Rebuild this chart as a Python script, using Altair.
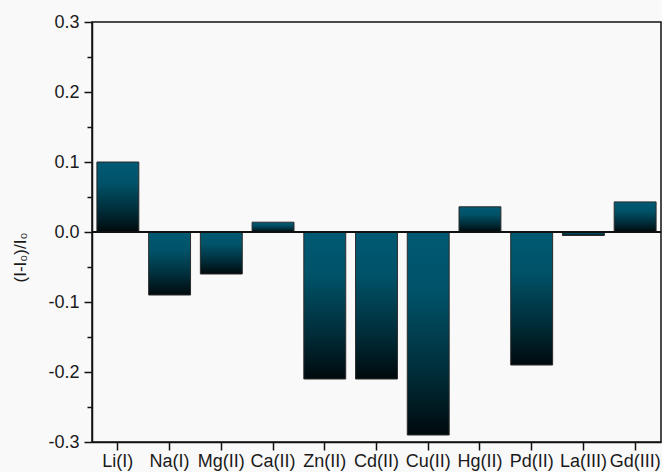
import altair as alt
import pandas as pd

# Relative intensity change for each metal ion
ions = ["Li(I)", "Na(I)", "Mg(II)", "Ca(II)", "Zn(II)", "Cd(II)",
        "Cu(II)", "Hg(II)", "Pd(II)", "La(III)", "Gd(III)"]
response = [0.100, -0.090, -0.060, 0.014, -0.210, -0.210,
            -0.290, 0.036, -0.190, -0.005, 0.043]

major_ticks = [-0.3, -0.2, -0.1, 0.0, 0.1, 0.2, 0.3]
minor_ticks = [-0.25, -0.15, -0.05, 0.05, 0.15, 0.25]

df = pd.DataFrame({"ion": ions, "value": response})

FONT = "Liberation Sans"
y_scale = alt.Scale(domain=[-0.3, 0.3], nice=False, zero=False)
x_scale = alt.Scale(paddingInner=0.19, paddingOuter=0.095)

bar_fill = alt.Gradient(
    gradient="linear",
    stops=[
        alt.GradientStop(color="#005a73", offset=0),
        alt.GradientStop(color="#005268", offset=0.3),
        alt.GradientStop(color="#002c38", offset=0.7),
        alt.GradientStop(color="#000a0d", offset=1),
    ],
    x1=0, x2=0, y1=0, y2=1,
)

bars = alt.Chart(df).mark_bar(
    fill=bar_fill, stroke="#2b2b2b", strokeWidth=1
).encode(
    x=alt.X("ion:N", sort=ions, scale=x_scale,
            axis=alt.Axis(title=None, labelAngle=0, labelOverlap=False,
                          labelFontSize=18, labelFont=FONT, labelColor="#1a1a1a",
                          tickSize=8, tickColor="#111", tickWidth=1.5,
                          domainColor="#111", domainWidth=1.5, labelPadding=2)),
    y=alt.Y("value:Q", scale=y_scale,
            axis=alt.Axis(title="(I-I₀)/I₀", values=major_ticks,
                          labelExpr="replace(format(datum.value, '.1f'), '\u2212', '-')",
                          orient="left", grid=False,
                          labelFontSize=18, labelFont=FONT, labelColor="#1a1a1a",
                          tickSize=8, tickColor="#111", tickWidth=1.5,
                          domainColor="#111", domainWidth=1.5, labelPadding=5,
                          titleFont=FONT, titleFontSize=17, titleFontWeight="normal",
                          titleColor="#1a1a1a", titleX=-63, titleY=235)),
)

# Unlabelled minor ticks on the value axis
minor = alt.Chart(pd.DataFrame({"v": minor_ticks})).mark_point(opacity=0).encode(
    y=alt.Y("v:Q", scale=y_scale,
            axis=alt.Axis(title=None, values=minor_ticks, labels=False,
                          orient="left", grid=False, domain=False,
                          tickSize=5, tickColor="#111", tickWidth=1.5)),
)

zero_line = alt.Chart(df).mark_rule(color="#111", strokeWidth=1.5).encode(
    y=alt.YDatum(0, axis=None)
)

chart = alt.layer(bars, zero_line, minor).resolve_axis(
    y="independent"
).properties(
    width=569, height=420,
    autosize=alt.AutoSizeParams(type="none"),
    padding={"left": 92, "top": 22, "right": 1, "bottom": 30},
    background="#f9f9f9",
).configure_view(
    stroke="#111", strokeWidth=1.5
)

chart.save("out.html", embed_options={"renderer": "svg", "actions": False})
